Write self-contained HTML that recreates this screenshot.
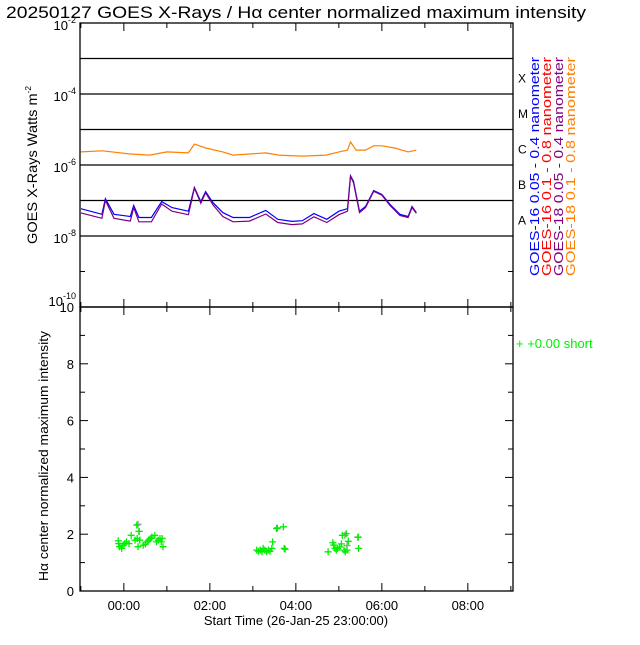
<!DOCTYPE html>
<html><head><meta charset="utf-8"><style>
body{margin:0;background:#fff;width:640px;height:640px;overflow:hidden}
svg{font-family:"Liberation Sans","DejaVu Sans",sans-serif}
</style></head><body>
<svg id="chart" width="640" height="640" viewBox="0 0 640 640" xmlns="http://www.w3.org/2000/svg">
<rect width="640" height="640" fill="#fff"/>
<text x="6" y="18" font-size="17" textLength="580" lengthAdjust="spacingAndGlyphs" fill="#000">20250127 GOES X-Rays / Hα center normalized maximum intensity</text>
<g id="topG"></g><g id="botG"></g>
</svg>
<script>
const blueT=[-1,-0.51,-0.43,-0.23,0.15,0.23,0.35,0.64,0.88,1.12,1.5,1.64,1.79,1.9,2.07,2.3,2.54,2.92,3.3,3.58,3.91,4.15,4.42,4.72,5.0,5.2,5.27,5.34,5.48,5.62,5.81,6.0,6.19,6.42,6.61,6.7,6.8];
const blueV=[-7.23,-7.39,-6.95,-7.39,-7.45,-7.14,-7.48,-7.48,-7.03,-7.2,-7.3,-6.63,-7.03,-6.75,-7.06,-7.34,-7.48,-7.48,-7.28,-7.53,-7.59,-7.57,-7.37,-7.53,-7.3,-7.23,-6.3,-6.46,-7.3,-7.17,-6.72,-6.83,-7.11,-7.39,-7.45,-7.17,-7.34];
const purpV=[-7.35,-7.5,-7.0,-7.5,-7.58,-7.2,-7.6,-7.6,-7.1,-7.3,-7.4,-6.65,-7.08,-6.78,-7.12,-7.45,-7.6,-7.58,-7.38,-7.62,-7.68,-7.66,-7.46,-7.62,-7.4,-7.3,-6.32,-6.5,-7.34,-7.2,-6.74,-6.85,-7.14,-7.42,-7.48,-7.2,-7.36];
const orT=[-1,-0.5,0.15,0.6,1.0,1.5,1.64,1.9,2.3,2.54,3.3,3.6,4.15,4.7,5.0,5.2,5.27,5.4,5.62,5.81,6.0,6.3,6.61,6.8];
const orV=[-5.63,-5.6,-5.69,-5.72,-5.63,-5.66,-5.41,-5.52,-5.63,-5.72,-5.66,-5.72,-5.75,-5.72,-5.63,-5.58,-5.35,-5.58,-5.58,-5.46,-5.46,-5.52,-5.63,-5.58];
const greenT=[-0.13,-0.12,-0.1,-0.05,-0.02,0.02,0.06,0.12,0.17,0.26,0.3,0.31,0.33,0.35,0.37,0.45,0.5,0.54,0.58,0.62,0.65,0.72,0.76,0.8,0.84,0.87,0.89,0.91,3.09,3.13,3.17,3.21,3.24,3.28,3.32,3.36,3.4,3.44,3.46,3.55,3.57,3.71,3.73,3.75,4.75,4.86,4.88,4.91,4.94,4.97,5.02,5.06,5.08,5.12,5.15,5.17,5.19,5.22,5.45,5.46];
const greenV=[1.77,1.67,1.56,1.5,1.61,1.67,1.73,1.67,1.96,1.79,2.32,1.85,1.56,2.1,1.79,1.61,1.65,1.73,1.79,1.85,1.9,1.96,1.73,1.79,1.85,1.73,1.85,1.56,1.44,1.4,1.44,1.38,1.5,1.44,1.38,1.44,1.4,1.5,1.73,2.2,2.22,2.26,1.5,1.47,1.38,1.7,1.62,1.5,1.44,1.5,1.55,1.66,1.96,1.44,1.38,2.02,1.44,1.75,1.9,1.5];
const grayT=[0.33,0.36,5.14,5.44,5.19];
const grayV=[2.35,2.1,1.96,1.89,1.6];
const xTickLabels=["00:00","02:00","04:00","06:00","08:00"];
const xTickHours=[0,2,4,6,8];
const yTopExp=[-2,-4,-6,-8,-10];
const yBotTicks=[0,2,4,6,8,10];

const NS="http://www.w3.org/2000/svg";
const L=80,R=513,T1=23,B1=307,T2=307,B2=591,H0=-1.02,H1=9.05;
const xs=h=>L+(h-H0)/(H1-H0)*(R-L);
const yT=v=>T1+(-2-v)/8*(B1-T1);
const yB=v=>B2-v/10*(B2-T2);
function el(p,tag,a){const e=document.createElementNS(NS,tag);for(const k in a)e.setAttribute(k,a[k]);p.appendChild(e);return e;}
const topG=document.getElementById('topG'),botG=document.getElementById('botG');

let fr=el(topG,'rect',{x:L,y:T1,width:R-L,height:B1-T1,fill:'none',stroke:'#000','stroke-width':1.3});


for(let e=-3;e>=-8;e--){const ln=el(topG,'line',{x1:L,x2:R,y1:yT(e),y2:yT(e),stroke:'#000','stroke-width':1.3});

}
for(let e=-2;e>=-10;e--){el(topG,'line',{x1:L,x2:L+5,y1:yT(e),y2:yT(e),stroke:'#000'});el(topG,'line',{x1:R-5,x2:R,y1:yT(e),y2:yT(e),stroke:'#000'});}
yTopExp.forEach(e=>{const t=el(topG,'text',{x:L-4,y:yT(e)+(e==-10?-1:7),'text-anchor':'end','font-size':13});


t.innerHTML='10<tspan dy="-7" font-size="9">'+e+'</tspan>';});
for(let h=-1;h<=9;h++){const len=h%2==0?8:5;
[[T1,T1+len],[B1-len,B1]].forEach(p=>el(topG,'line',{x1:xs(h),x2:xs(h),y1:p[0],y2:p[1],stroke:'#000'}));
[[T2,T2+len],[B2-len,B2]].forEach(p=>el(botG,'line',{x1:xs(h),x2:xs(h),y1:p[0],y2:p[1],stroke:'#000'}));}
function line(T,V,col,name){const d=T.map((t,i)=>(i?'L':'M')+xs(t).toFixed(1)+','+yT(V[i]).toFixed(1)).join('');
const p=el(topG,'path',{d:d,fill:'none',stroke:col,'stroke-width':1.2});

}
line(orT,orV,'#ff8000','goes18-long-line');
line(blueT,blueV,'#0000ff','goes16-short-line');
line(blueT,purpV,'#800080','goes18-short-line');
let yt=el(topG,'text',{x:0,y:0,transform:'translate(37,165) rotate(-90)','text-anchor':'middle','font-size':14,textLength:158,lengthAdjust:'spacingAndGlyphs'});


yt.innerHTML='GOES X-Rays Watts m<tspan dy="-6" font-size="8">-2</tspan>';
[['X',-3.5],['M',-4.5],['C',-5.5],['B',-6.5],['A',-7.5]].forEach(c=>{const t=el(topG,'text',{x:518,y:yT(c[1])+6,'font-size':12});


t.textContent=c[0];});
[['GOES-16 0.05 - 0.4 nanometer','#0000ff',539],['GOES-16 0.1 - 0.8 nanometer','#ff0000',551],['GOES-18 0.05 - 0.4 nanometer','#800080',563],['GOES-18 0.1 - 0.8 nanometer','#ff8000',575]].forEach(s=>{
const t=el(topG,'text',{x:0,y:0,transform:'translate('+s[2]+',276) rotate(-90)','font-size':13,fill:s[1],textLength:219,lengthAdjust:'spacingAndGlyphs'});


t.textContent=s[0];});

fr=el(botG,'rect',{x:L,y:T2,width:R-L,height:B2-T2,fill:'none',stroke:'#000','stroke-width':1.3});


for(let v=0;v<=10;v++){const len=v%2==0?8:5;el(botG,'line',{x1:L,x2:L+len,y1:yB(v),y2:yB(v),stroke:'#000'});el(botG,'line',{x1:R-len,x2:R,y1:yB(v),y2:yB(v),stroke:'#000'});}
yBotTicks.forEach(v=>{const t=el(botG,'text',{x:L-6,y:yB(v)+5,'text-anchor':'end','font-size':13});


t.textContent=v;});
xTickHours.forEach((h,i)=>{const t=el(botG,'text',{x:xs(h),y:610,'text-anchor':'middle','font-size':13});


t.textContent=xTickLabels[i];});
let xt=el(botG,'text',{x:296,y:625,'text-anchor':'middle','font-size':13});


xt.textContent='Start Time (26-Jan-25 23:00:00)';
let yt2=el(botG,'text',{x:0,y:0,transform:'translate(48,456) rotate(-90)','text-anchor':'middle','font-size':13,textLength:250,lengthAdjust:'spacingAndGlyphs'});


yt2.textContent='Hα center normalized maximum intensity';
function plus(T,V,col,name){T.forEach((t,i)=>{const x=xs(t),y=yB(V[i]);
const p=el(botG,'path',{d:'M'+(x-3.5)+','+y+'H'+(x+3.5)+'M'+x+','+(y-3.5)+'V'+(y+3.5),stroke:col,'stroke-width':1.3});

});}
plus(grayT,grayV,'#999999','gray-point');
plus(greenT,greenV,'#00ee00','halpha-point');
let lg=el(botG,'text',{x:516,y:348,'font-size':13,fill:'#00ee00'});


lg.textContent='+  +0.00 short';
</script>
</body></html>
